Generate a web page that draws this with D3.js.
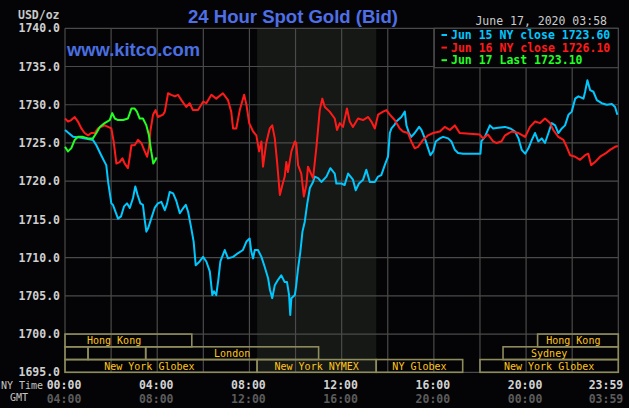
<!DOCTYPE html>
<html><head><meta charset="utf-8">
<script src="https://cdn.jsdelivr.net/npm/d3@7"></script>
<style>
html,body{margin:0;padding:0;background:#040406;}
svg{display:block;}
</style></head>
<body>
<svg id="chart" width="629" height="408"></svg>
<script>
// ---------- DATA ----------
const title = "24 Hour Spot Gold (Bid)";
const siteLabel = "www.kitco.com";
const stamp = "June 17, 2020 03:58";
const unitLabel = "USD/oz";
const yTicks = [1695, 1700, 1705, 1710, 1715, 1720, 1725, 1730, 1735, 1740];
const xTickHours = [0, 4, 8, 12, 16, 20, 24];
const nyTimeLabels = ["00:00", "04:00", "08:00", "12:00", "16:00", "20:00", "23:59"];
const gmtLabels = ["04:00", "08:00", "12:00", "16:00", "20:00", "00:00", "03:59"];
const gridHours = [0, 2, 4, 6, 8, 10, 12, 14, 16, 18, 20, 22, 24];
const nymexShade = [8.333, 13.5];

const legendNames = ["Jun 15 NY close 1723.60", "Jun 16 NY close 1726.10", "Jun 17 Last 1723.10"];

// [hour, price]
const jun15 = [[0,1726.7],[0.35,1725.8],[0.65,1725.7],[1.21,1725.4],[1.36,1724.7],[1.57,1723.4],[1.72,1722.5],[1.79,1722.1],[1.87,1719.9],[1.94,1718.5],[2.01,1717.1],[2.08,1716.9],[2.30,1715.1],[2.43,1715.4],[2.56,1716.7],[2.69,1717.1],[2.81,1716.5],[2.95,1717.8],[3.05,1719.3],[3.15,1718.2],[3.27,1717.1],[3.38,1716.9],[3.46,1714.9],[3.53,1713.4],[3.60,1713.8],[3.74,1715.1],[3.89,1716.5],[4.03,1717.1],[4.18,1717.3],[4.33,1716.2],[4.43,1717.1],[4.54,1718.6],[4.69,1718.4],[4.82,1717.5],[4.98,1715.8],[5.11,1716.4],[5.24,1716.9],[5.34,1716.0],[5.48,1713.8],[5.58,1712.1],[5.67,1709.0],[5.84,1709.5],[5.99,1710.1],[6.13,1709.5],[6.28,1708.2],[6.39,1705.1],[6.46,1705.6],[6.56,1705.1],[6.65,1707.1],[6.74,1709.5],[6.93,1711.0],[7.07,1709.9],[7.29,1710.1],[7.51,1710.6],[7.72,1711.0],[7.87,1712.1],[8.01,1712.5],[8.08,1710.8],[8.16,1709.9],[8.23,1711.0],[8.37,1711.0],[8.52,1710.1],[8.66,1708.8],[8.81,1707.3],[8.89,1705.8],[8.99,1704.7],[9.10,1706.4],[9.24,1707.1],[9.38,1707.7],[9.53,1706.8],[9.63,1706.8],[9.72,1705.1],[9.77,1702.5],[9.82,1704.7],[9.97,1705.1],[10.03,1706.4],[10.11,1708.6],[10.21,1710.8],[10.30,1713.4],[10.40,1714.7],[10.50,1716.9],[10.62,1719.1],[10.76,1719.9],[10.83,1720.6],[10.98,1720.4],[11.12,1719.9],[11.34,1720.6],[11.51,1721.7],[11.70,1721.0],[11.77,1719.7],[11.99,1719.7],[12.13,1719.5],[12.28,1721.0],[12.49,1720.2],[12.61,1718.8],[12.75,1719.7],[12.93,1720.2],[13.07,1721.5],[13.22,1719.9],[13.44,1719.9],[13.58,1720.6],[13.72,1720.8],[13.87,1722.1],[14.01,1723.2],[14.09,1726.3],[14.16,1726.9],[14.30,1727.4],[14.37,1727.8],[14.59,1728.4],[14.74,1729.1],[14.81,1727.3],[14.92,1726.3],[15.02,1725.8],[15.17,1726.3],[15.36,1727.1],[15.46,1726.7],[15.61,1725.6],[15.75,1724.3],[15.85,1723.4],[15.97,1723.9],[16.08,1725.2],[16.26,1725.6],[16.40,1725.8],[16.62,1725.6],[16.76,1725.2],[16.91,1724.1],[17.05,1723.7],[17.27,1723.6],[18.02,1723.6],[18.06,1725.2],[18.21,1725.8],[18.43,1727.3],[18.57,1726.9],[18.79,1727.0],[19.08,1727.1],[19.31,1726.9],[19.52,1726.5],[19.67,1725.6],[19.81,1724.1],[19.96,1723.6],[20.10,1724.3],[20.25,1725.4],[20.39,1726.3],[20.53,1725.2],[20.68,1725.6],[20.82,1725.0],[20.97,1726.3],[21.11,1727.6],[21.26,1727.3],[21.40,1726.3],[21.55,1726.9],[21.69,1727.3],[21.84,1728.7],[21.98,1729.1],[22.13,1730.8],[22.27,1731.1],[22.49,1730.8],[22.56,1731.7],[22.66,1733.2],[22.78,1731.9],[22.92,1731.7],[23.07,1730.6],[23.28,1730.2],[23.50,1730.0],[23.72,1730.1],[23.86,1729.7],[23.96,1728.7]];

const jun16 = [[0,1728.2],[0.13,1727.8],[0.27,1728.0],[0.42,1728.4],[0.56,1727.8],[0.71,1726.9],[0.85,1726.3],[1.0,1726.0],[1.14,1726.3],[1.29,1726.3],[1.43,1726.9],[1.57,1727.1],[1.72,1727.3],[1.87,1727.1],[2.01,1726.9],[2.11,1725.2],[2.23,1722.3],[2.37,1722.5],[2.49,1723.0],[2.59,1722.3],[2.73,1721.7],[2.81,1723.2],[2.88,1724.7],[3.02,1724.7],[3.17,1725.4],[3.31,1725.0],[3.46,1723.9],[3.56,1723.2],[3.64,1724.3],[3.70,1726.5],[3.82,1728.7],[3.93,1729.3],[4.03,1728.4],[4.25,1728.7],[4.33,1729.1],[4.47,1731.5],[4.61,1731.3],[4.77,1731.1],[4.90,1731.3],[5.05,1730.6],[5.26,1729.7],[5.41,1730.2],[5.55,1729.3],[5.77,1729.3],[5.99,1730.4],[6.13,1730.2],[6.35,1731.3],[6.56,1730.8],[6.85,1731.5],[7.07,1730.6],[7.21,1729.1],[7.29,1726.9],[7.43,1726.9],[7.58,1729.3],[7.77,1731.3],[7.87,1730.0],[7.99,1727.6],[8.16,1726.5],[8.30,1726.0],[8.42,1723.9],[8.52,1725.2],[8.59,1721.9],[8.73,1725.0],[8.88,1726.9],[8.99,1727.3],[9.10,1725.6],[9.20,1722.5],[9.32,1718.2],[9.43,1719.5],[9.53,1720.6],[9.60,1722.5],[9.67,1721.2],[9.82,1723.9],[9.97,1725.2],[10.03,1725.0],[10.11,1722.1],[10.25,1721.0],[10.36,1718.0],[10.47,1719.5],[10.54,1721.9],[10.64,1721.2],[10.76,1720.4],[10.90,1724.3],[10.98,1726.9],[11.05,1729.3],[11.16,1730.8],[11.27,1729.7],[11.48,1729.1],[11.70,1728.2],[11.80,1726.7],[11.92,1727.6],[12.06,1727.1],[12.23,1729.5],[12.35,1727.8],[12.49,1727.1],[12.71,1728.2],[12.93,1728.0],[13.15,1728.4],[13.29,1727.8],[13.44,1726.9],[13.58,1728.7],[13.80,1729.1],[13.94,1729.3],[14.09,1728.7],[14.30,1728.0],[14.52,1726.9],[14.66,1726.5],[14.88,1726.3],[15.02,1725.2],[15.17,1724.3],[15.31,1724.5],[15.53,1725.4],[15.75,1726.0],[15.97,1726.3],[16.26,1726.5],[16.47,1727.1],[16.69,1726.7],[16.91,1727.3],[17.12,1726.3],[17.99,1726.1],[18.13,1725.6],[18.35,1726.1],[18.57,1725.2],[18.71,1725.0],[18.93,1725.2],[19.09,1726.0],[19.38,1726.5],[19.67,1726.3],[19.96,1725.8],[20.17,1727.1],[20.39,1727.8],[20.61,1727.6],[20.82,1728.2],[21.04,1727.6],[21.18,1726.7],[21.40,1725.8],[21.62,1725.4],[21.76,1724.5],[21.91,1723.4],[22.13,1723.2],[22.34,1722.8],[22.56,1723.4],[22.70,1723.6],[22.82,1722.1],[22.99,1722.5],[23.21,1723.2],[23.43,1723.6],[23.64,1724.1],[23.86,1724.5],[23.98,1724.6]];

const jun17 = [[0,1724.5],[0.13,1723.9],[0.27,1724.3],[0.42,1725.4],[0.56,1725.8],[0.78,1725.8],[1.0,1725.6],[1.21,1725.6],[1.36,1726.3],[1.51,1727.1],[1.72,1727.6],[1.94,1728.0],[2.05,1728.9],[2.16,1728.2],[2.30,1728.0],[2.52,1728.0],[2.73,1728.2],[2.88,1729.5],[3.02,1729.5],[3.12,1729.1],[3.24,1728.2],[3.38,1728.2],[3.53,1727.3],[3.64,1726.0],[3.74,1723.9],[3.83,1722.3],[3.93,1722.8],[3.97,1723.1]];

// trading sessions: [row, startHour, endHour, label, labelHour]
const sessions = [
  [0, 0, 5.5, "Hong Kong", 2.13],
  [0, 20.5, 24, "Hong Kong", 22.05],
  [1, 0, 1, "", null],
  [1, 1, 3.5, "", null],
  [1, 3.5, 11, "London", null],
  [1, 19, 24, "Sydney", 21.0],
  [2, 0, 8.333, "New York Globex", 3.66],
  [2, 8.333, 13.5, "New York NYMEX", null],
  [2, 13.5, 17.25, "NY Globex", null],
  [2, 18, 24, "New York Globex", null]
];

const seriesColors = ["#00c8ff", "#ff1a1a", "#22ff22"];

// ---------- CHART ----------
const svg = d3.select("#chart");
const W = 629, H = 408;
const x = d3.scaleLinear().domain([0, 24]).range([65, 618.3]);
const y = d3.scaleLinear().domain([1695, 1740]).range([372.3, 28.3]);

svg.append("rect").attr("width", W).attr("height", H).attr("fill", "#040406");

// shaded NYMEX
svg.append("rect")
  .attr("x", x(nymexShade[0])).attr("y", y(1740))
  .attr("width", x(nymexShade[1]) - x(nymexShade[0]))
  .attr("height", y(1695) - y(1740))
  .attr("fill", "#151814");

// grid
const grid = svg.append("g").attr("stroke", "#4a4a4a").attr("stroke-width", 1.2);
grid.selectAll("line.h").data(yTicks).join("line")
  .attr("x1", x(0)).attr("x2", x(24)).attr("y1", d => y(d)).attr("y2", d => y(d));
grid.selectAll("line.v").data(gridHours).join("line")
  .attr("y1", y(1740)).attr("y2", y(1695)).attr("x1", d => x(d)).attr("x2", d => x(d));

// y labels
const mono = "'DejaVu Sans Mono', 'Liberation Mono', monospace";
svg.append("g").selectAll("text").data(yTicks).join("text")
  .attr("x", 60).attr("y", d => y(d)).attr("dy", "0.36em")
  .attr("text-anchor", "end").attr("font-family", mono).attr("font-weight", "bold")
  .attr("font-size", 11.5).attr("fill", "#cfcfcf")
  .text(d => d.toFixed(1));

svg.append("text").attr("x", 18).attr("y", 14.5).attr("dy", "0.36em")
  .attr("font-family", mono).attr("font-weight", "bold").attr("font-size", 11.5)
  .attr("fill", "#c8c8c8").text(unitLabel);

// title
svg.append("text").attr("x", 293).attr("y", 23)
  .attr("text-anchor", "middle").attr("font-family", "'Liberation Sans', Arial, sans-serif")
  .attr("font-weight", "bold")
  .attr("font-size", 19).attr("fill", "#4f6fe6")
  .attr("textLength", 210).attr("lengthAdjust", "spacingAndGlyphs")
  .text(title);

svg.append("text").attr("x", 67).attr("y", 55.5)
  .attr("font-family", "'Liberation Sans', Arial, sans-serif").attr("font-weight", "bold")
  .attr("font-size", 17.5).attr("fill", "#4a6fe0")
  .attr("textLength", 133).attr("lengthAdjust", "spacingAndGlyphs")
  .text(siteLabel);

svg.append("text").attr("x", 607).attr("y", 25)
  .attr("text-anchor", "end").attr("font-family", mono).attr("font-size", 11.5)
  .attr("fill", "#cccccc").text(stamp);

// sessions
const rowEdges = [1700, 1700 - 5/3, 1700 - 10/3, 1695];
const sess = svg.append("g");
sessions.forEach(s => {
  const [row, a, b, label, lh] = s;
  const top = y(rowEdges[row]), bot = y(rowEdges[row + 1]);
  sess.append("rect").attr("x", x(a)).attr("y", top)
    .attr("width", x(b) - x(a)).attr("height", bot - top)
    .attr("fill", "none").attr("stroke", "#8e8c5c").attr("stroke-width", 1.6);
});
sessions.forEach(s => {
  const [row, a, b, label, lh] = s;
  if (!label) return;
  const top = y(rowEdges[row]), bot = y(rowEdges[row + 1]);
  sess.append("text").attr("x", x(lh == null ? (a + b) / 2 : lh)).attr("y", (top + bot) / 2)
    .attr("dy", "0.36em").attr("text-anchor", "middle")
    .attr("font-family", mono).attr("font-size", 10).attr("fill", "#ffc61a")
    .text(label);
});

// series
const line = d3.line().x(d => x(d[0])).y(d => y(d[1])).curve(d3.curveLinear);
[jun15, jun16, jun17].forEach((data, i) => {
  svg.append("path").datum(data).attr("d", line)
    .attr("fill", "none").attr("stroke", seriesColors[i]).attr("stroke-width", 2)
    .attr("stroke-linejoin", "round");
});

// legend
const lg = svg.append("g");
lg.append("rect").attr("x", 434.3).attr("y", y(1740)).attr("width", x(24) - 434.3).attr("height", 39.4)
  .attr("fill", "#040406").attr("stroke", "#4a4a4a").attr("stroke-width", 1.2);
legendNames.forEach((n, i) => {
  const cy = 35 + i * 12.6;
  lg.append("line").attr("x1", 441.5).attr("x2", 447).attr("y1", cy).attr("y2", cy)
    .attr("stroke", seriesColors[i]).attr("stroke-width", 2);
  lg.append("text").attr("x", 451).attr("y", cy).attr("dy", "0.36em")
    .attr("font-family", mono).attr("font-weight", "bold").attr("font-size", 11.5)
    .attr("fill", seriesColors[i]).text(n);
});

// x labels
svg.append("text").attr("x", 1).attr("y", 385).attr("dy", "0.36em")
  .attr("font-family", mono).attr("font-size", 10).attr("fill", "#c4c4c4").text("NY Time");
svg.append("text").attr("x", 10).attr("y", 397.5).attr("dy", "0.36em")
  .attr("font-family", mono).attr("font-size", 10).attr("fill", "#c4c4c4").text("GMT");
xTickHours.forEach((h, i) => {
  const last = i === xTickHours.length - 1;
  const xx = last ? x(h) + 5 : x(h) - 1;
  const anchor = last ? "end" : "middle";
  svg.append("text").attr("x", xx).attr("y", 385).attr("dy", "0.36em")
    .attr("text-anchor", anchor).attr("font-family", mono).attr("font-weight", "bold")
    .attr("font-size", 11.5).attr("fill", "#d2d2d2").text(nyTimeLabels[i]);
  svg.append("text").attr("x", xx).attr("y", 398.5).attr("dy", "0.36em")
    .attr("text-anchor", anchor).attr("font-family", mono).attr("font-weight", "bold")
    .attr("font-size", 11.5).attr("fill", "#5c5c5c").text(gmtLabels[i]);
});
</script>
</body></html>
